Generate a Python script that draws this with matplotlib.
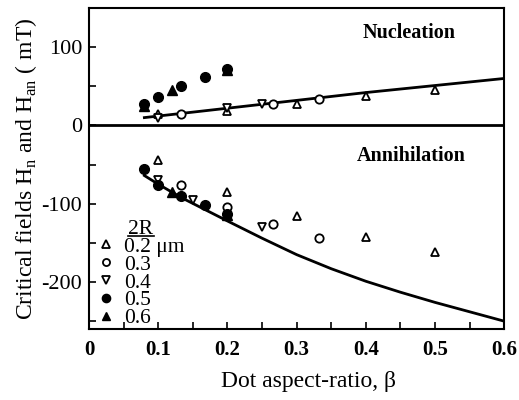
import matplotlib
matplotlib.use("Agg")
import matplotlib.pyplot as plt
from matplotlib.ticker import MultipleLocator
from matplotlib.lines import Line2D

plt.rcParams['font.family'] = ['Liberation Serif', 'DejaVu Serif']
plt.rcParams['mathtext.fontset'] = 'custom'
plt.rcParams['mathtext.rm'] = 'Liberation Serif'

# Nucleation data (beta, H in mT)
nuc_02_x = [0.10, 0.20, 0.30, 0.40, 0.50]
nuc_02_y = [14, 18, 27, 37, 45]
nuc_03_x = [0.133, 0.266, 0.333]
nuc_03_y = [14, 28, 34]
nuc_04_x = [0.10, 0.20, 0.25]
nuc_04_y = [10, 22, 28]
nuc_05_x = [0.08, 0.10, 0.133, 0.167, 0.20]
nuc_05_y = [28, 36, 50, 62, 72]
nuc_06_x = [0.08, 0.12, 0.20]
nuc_06_y = [25, 45, 71]

# Annihilation data
ann_02_x = [0.10, 0.20, 0.30, 0.40, 0.50]
ann_02_y = [-44, -85, -116, -143, -162]
ann_03_x = [0.133, 0.20, 0.266, 0.333]
ann_03_y = [-76, -104, -126, -144]
ann_04_x = [0.10, 0.15, 0.25]
ann_04_y = [-70, -95, -130]
ann_05_x = [0.08, 0.10, 0.133, 0.167, 0.20]
ann_05_y = [-56, -76, -90, -102, -113]
ann_06_x = [0.12, 0.20]
ann_06_y = [-85, -114]

# Theory curves
nuc_line_x = [0.08, 0.2, 0.3, 0.4, 0.5, 0.6]
nuc_line_y = [10, 22, 32, 42, 51, 60]
ann_line_x = [0.08, 0.10, 0.133, 0.2, 0.25, 0.3, 0.35, 0.4, 0.45, 0.5, 0.55, 0.6]
ann_line_y = [-64, -75, -92, -122, -144, -165, -183, -199, -213, -226, -238, -250]

legend_labels = ['0.2 \u03bcm', '0.3', '0.4', '0.5', '0.6']

fig = plt.figure(figsize=(5.19, 4.0), dpi=100)
ax = fig.add_axes([0.1715, 0.1775, 0.8, 0.8025])

ax.plot(nuc_line_x, nuc_line_y, color='black', lw=2)
ax.plot(ann_line_x, ann_line_y, color='black', lw=2)
ax.axhline(0, color='black', lw=2)

ms = 6
open_kw = dict(ls='none', mfc='white', mec='black', mew=1.3, ms=ms)
fill_kw = dict(ls='none', mfc='black', mec='black', ms=ms + 1)

h1, = ax.plot(nuc_02_x, nuc_02_y, marker='^', **open_kw)
ax.plot(ann_02_x, ann_02_y, marker='^', **open_kw)
h2, = ax.plot(nuc_03_x, nuc_03_y, marker='o', **open_kw)
ax.plot(ann_03_x, ann_03_y, marker='o', **open_kw)
h3, = ax.plot(nuc_04_x, nuc_04_y, marker='v', **open_kw)
ax.plot(ann_04_x, ann_04_y, marker='v', **open_kw)
h4, = ax.plot(nuc_05_x, nuc_05_y, marker='o', **fill_kw)
ax.plot(ann_05_x, ann_05_y, marker='o', **fill_kw)
h5, = ax.plot(nuc_06_x, nuc_06_y, marker='^', **fill_kw)
ax.plot(ann_06_x, ann_06_y, marker='^', **fill_kw)

ax.set_xlim(0, 0.6)
ax.set_ylim(-260, 150)
ax.xaxis.set_minor_locator(MultipleLocator(0.05))
ax.yaxis.set_minor_locator(MultipleLocator(50))
ax.tick_params(which='both', direction='in', top=False, right=False)
ax.tick_params(which='major', length=5, width=1.2)
ax.tick_params(which='minor', length=5, width=1.2)
ax.set_xticks([0, 0.1, 0.2, 0.3, 0.4, 0.5, 0.6])
ax.set_xticklabels(['0', '0.1', '0.2', '0.3', '0.4', '0.5', '0.6'], fontsize=15, fontweight='bold')
ax.set_yticks([-200, -100, 0, 100])
ax.set_yticklabels(['-200', '-100', '0', '100'], fontsize=16)
ax.tick_params(axis='x', pad=8)
ax.tick_params(axis='y', pad=5)
for s in ax.spines.values():
    s.set_linewidth(1.5)

ax.set_xlabel('Dot aspect-ratio, \u03b2', fontsize=17, labelpad=10)
ax.xaxis.set_label_coords(0.528, -0.13)
ax.set_ylabel('Critical fields H$_\\mathregular{n}$ and H$_\\mathregular{an}$ ( mT)', fontsize=17, labelpad=2)

ax.text(0.462, 118, 'Nucleation', fontsize=14.5, fontweight='bold', ha='center', va='center')
ax.text(0.465, -38.5, 'Annihilation', fontsize=14.5, fontweight='bold', ha='center', va='center')

leg = ax.legend([h1, h2, h3, h4, h5], legend_labels, loc='lower left',
                bbox_to_anchor=(-0.015, -0.045), frameon=False, fontsize=15.5,
                title='2R', handlelength=0.8, handletextpad=0.4,
                labelspacing=-0.1, borderaxespad=0.3, markerscale=0.85)
leg.get_title().set_fontsize(15.5)
leg._legend_box.align = 'center'

fig.canvas.draw()
bb = leg.get_title().get_window_extent(fig.canvas.get_renderer())
bbf = bb.transformed(fig.transFigure.inverted())
fig.add_artist(Line2D([bbf.x0, bbf.x1], [bbf.y0 + 0.006, bbf.y0 + 0.006],
                      transform=fig.transFigure, color='black', lw=1.2))

fig.savefig('out.png', dpi=100)
